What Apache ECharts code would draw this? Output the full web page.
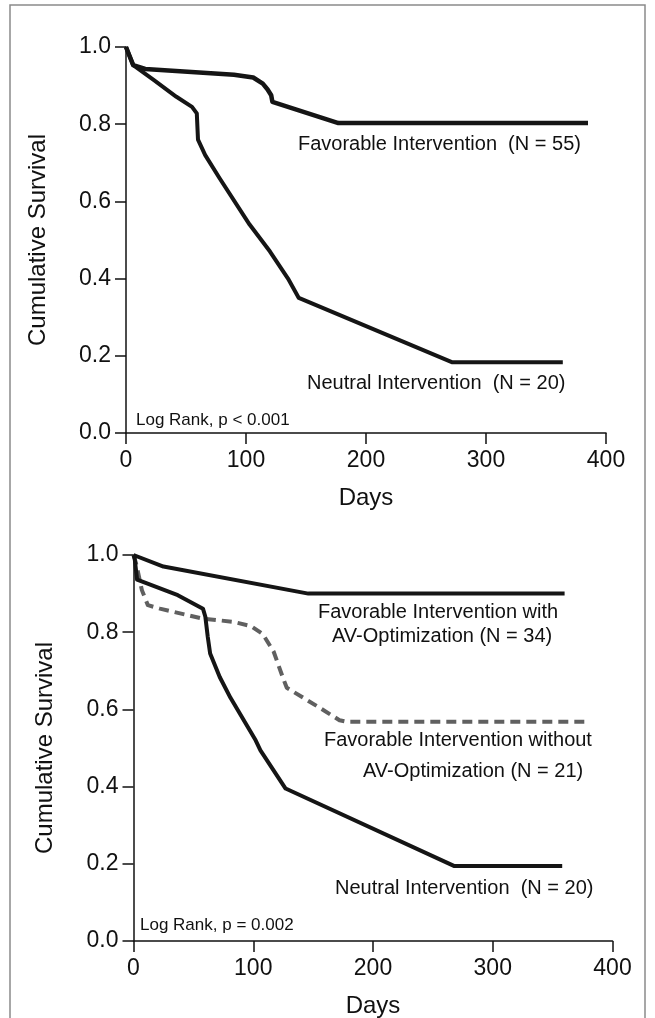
<!DOCTYPE html>
<html>
<head>
<meta charset="utf-8">
<script src="https://cdn.jsdelivr.net/npm/echarts@6/dist/echarts.min.js"></script>
<style>
html,body{margin:0;padding:0;background:#fff;}
#c{width:655px;height:1018px;}
</style>
</head>
<body>
<div id="c"></div>
<script>
// ---- Data (days, cumulative survival) ----
var xTicks = [0, 100, 200, 300, 400];
var yTicks = [0.0, 0.2, 0.4, 0.6, 0.8, 1.0];

// Panel A
var favorableA = [[0,1],[1.5,1],[6,0.953],[16,0.943],[90,0.928],[106,0.921],[114,0.905],[118,0.89],[121,0.875],[122,0.858],[177,0.803],[385,0.803]];
var neutralA = [[0,1],[1.5,1],[6,0.953],[23,0.915],[42,0.871],[55,0.845],[59,0.828],[60,0.76],[66,0.72],[78,0.66],[103,0.54],[120,0.47],[135,0.40],[144,0.35],[272,0.183],[364,0.183]];

// Panel B
var favorableWithAV = [[0,1],[25,0.97],[146,0.90],[360,0.90]];
var favorableWithoutAV = [[0,1],[2,0.98],[4,0.952],[7,0.909],[12,0.87],[22,0.861],[58,0.835],[83,0.827],[98,0.816],[108,0.795],[117,0.75],[125,0.68],[128,0.656],[154,0.607],[172,0.572],[178,0.568],[377,0.568]];
var neutralB = [[0,1],[1,0.99],[3,0.936],[37,0.896],[58,0.861],[60,0.84],[62,0.788],[64,0.745],[72,0.684],[81,0.63],[102,0.52],[106,0.494],[127,0.395],[268,0.194],[358,0.194]];

var labelsA = ['Favorable Intervention  (N = 55)', 'Neutral Intervention  (N = 20)', 'Log Rank, p < 0.001'];
var labelsB = ['Favorable Intervention with', 'AV-Optimization (N = 34)', 'Favorable Intervention without', 'AV-Optimization (N = 21)', 'Neutral Intervention  (N = 20)', 'Log Rank, p = 0.002'];

var FONT = "'Liberation Sans', Arial, Helvetica, sans-serif";
var INK = '#111';

function xAxis(gi){
  return {
    gridIndex: gi, type: 'value', min: 0, max: 400, interval: 100,
    name: 'Days', nameLocation: 'middle', nameGap: 53,
    nameTextStyle: {fontSize: 24, color: INK, fontFamily: FONT},
    axisLine: {show: true, onZero: false, lineStyle: {color: INK, width: 1.5}},
    axisTick: {show: true, length: 11, lineStyle: {color: INK, width: 1.5}},
    axisLabel: {fontSize: 23, color: INK, fontFamily: FONT, margin: 16},
    splitLine: {show: false}
  };
}
function yAxis(gi){
  return {
    gridIndex: gi, type: 'value', min: 0, max: 1, interval: 0.2,
    name: 'Cumulative Survival', nameLocation: 'middle', nameGap: 76,
    nameTextStyle: {fontSize: 24, color: INK, fontFamily: FONT},
    axisLine: {show: true, lineStyle: {color: INK, width: 1.5}},
    axisTick: {show: true, length: 11, lineStyle: {color: INK, width: 1.5}},
    axisLabel: {fontSize: 23, color: INK, fontFamily: FONT, margin: 15,
      formatter: function(v){ return v.toFixed(1); }},
    splitLine: {show: false}
  };
}
function line(data, gi, opts){
  opts = opts || {};
  return {
    type: 'line', xAxisIndex: gi, yAxisIndex: gi, data: data,
    showSymbol: false, symbol: 'none', animation: false, silent: true,
    lineStyle: {color: opts.color || '#151515', width: opts.width || 4, type: opts.type || 'solid', cap: 'butt', join: 'round'},
    z: opts.z || 3
  };
}
function txt(t, x, y, size){
  return {type: 'text', x: x, y: y, silent: true,
    style: {text: t, fontSize: size, fontFamily: FONT, fill: INK, verticalAlign: 'middle'}};
}

var chart = echarts.init(document.getElementById('c'), null, {renderer: 'canvas'});
chart.setOption({
  backgroundColor: '#fff',
  animation: false,
  grid: [
    {left: 126, top: 47, width: 480, height: 386, containLabel: false, outerBoundsMode: 'none'},
    {left: 133.5, top: 555, width: 479, height: 386, containLabel: false, outerBoundsMode: 'none'}
  ],
  xAxis: [xAxis(0), xAxis(1)],
  yAxis: [yAxis(0), yAxis(1)],
  series: [
    line(favorableA, 0, {width: 4.5}),
    line(neutralA, 0, {width: 4}),
    line(favorableWithAV, 1, {width: 4}),
    line(favorableWithoutAV, 1, {width: 4, color: '#606060', type: [10, 6], z: 2}),
    line(neutralB, 1, {width: 4})
  ],
  graphic: [
    {type: 'rect', silent: true, shape: {x: 10, y: 5, width: 635, height: 1030},
      style: {fill: 'none', stroke: '#8a8a8a', lineWidth: 1.5}},
    txt(labelsA[0], 298, 144, 20),
    txt(labelsA[1], 307, 383, 20),
    txt(labelsA[2], 136, 420, 17),
    txt(labelsB[0], 318, 612, 20),
    txt(labelsB[1], 332, 636, 20),
    txt(labelsB[2], 324, 740, 20),
    txt(labelsB[3], 363, 771, 20),
    txt(labelsB[4], 335, 888, 20),
    txt(labelsB[5], 140, 925, 17)
  ]
});
</script>
</body>
</html>
